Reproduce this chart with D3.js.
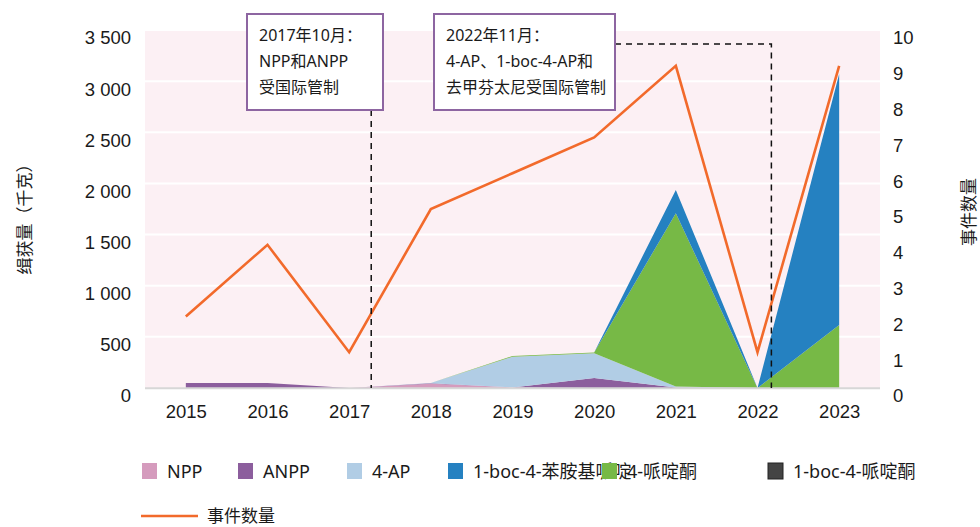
<!DOCTYPE html>
<html>
<head>
<meta charset="utf-8">
<script src="https://cdn.jsdelivr.net/npm/d3@7"></script>
<style>
  body { margin: 0; background: #fff; }
  svg { display: block; font-family: "Noto Sans", "Noto Sans CJK SC", sans-serif; }
</style>
</head>
<body>
<svg id="chart"></svg>
<script>
// data
const years = [2015, 2016, 2017, 2018, 2019, 2020, 2021, 2022, 2023];
const npp = [0, 0, 0, 42, 5, 0, 0, 0, 0];
const anpp = [50, 50, 0, 5, 0, 98, 5, 0, 0];
const ap4 = [0, 0, 0, 3, 300, 242, 10, 0, 0];
const piperidone4 = [0, 0, 0, 0, 8, 8, 1693, 0, 616];
const bocAnpp = [0, 0, 0, 0, 0, 0, 228, 0, 2454];
const bocPiperidone = [0, 0, 0, 0, 0, 0, 0, 0, 0];
const incidents = [2, 4, 1, 5, 6, 7, 9, 1, 9];

const leftTicks = [0, 500, 1000, 1500, 2000, 2500, 3000, 3500];
const rightTicks = [0, 1, 2, 3, 4, 5, 6, 7, 8, 9, 10];

// annotations: where the dashed marker sits (fractional year)
const notes = [
    { year: 2017.27, lines: ["2017年10月：", "NPP和ANPP", "受国际管制"] },
    { year: 2022.17, lines: ["2022年11月：", "4-AP、1-boc-4-AP和", "去甲芬太尼受国际管制"] }
];

const seriesKeys = ["NPP", "ANPP", "4-AP", "4-哌啶酮", "1-boc-4-苯胺基哌啶", "1-boc-4-哌啶酮"];
const seriesValues = [npp, anpp, ap4, piperidone4, bocAnpp, bocPiperidone];
const colors = {
    "NPP": "#d59bbd",
    "ANPP": "#8c5e9d",
    "4-AP": "#b1cde5",
    "1-boc-4-苯胺基哌啶": "#2581c1",
    "4-哌啶酮": "#77b946",
    "1-boc-4-哌啶酮": "#444444"
};
const lineColor = "#f26a2b";

const width = 980, height = 527;
const plot = { left: 145, right: 880, top: 30, bottom: 388 };

const svg = d3.select("#chart").attr("width", width).attr("height", height);

const x = d3.scaleLinear().domain([2014.5, 2023.5]).range([plot.left, plot.right]);
const yL = d3.scaleLinear().domain([0, 3500]).range([plot.bottom, plot.top]);
const yR = d3.scaleLinear().domain([0, 10]).range([plot.bottom, plot.top]);

//background + grid
svg.append("rect")
    .attr("x", plot.left).attr("y", plot.top)
    .attr("width", plot.right - plot.left).attr("height", plot.bottom - plot.top)
    .attr("fill", "#fcf0f4");

svg.append("g").selectAll("line")
    .data(leftTicks.filter(d => d > 0))
    .enter().append("line")
    .attr("x1", plot.left).attr("x2", plot.right)
    .attr("y1", d => yL(d)).attr("y2", d => yL(d))
    .attr("stroke", "#fff").attr("stroke-width", 2);

//stacked areas
const rows = years.map((yr, i) => {
    const row = { year: yr };
    seriesKeys.forEach((k, j) => row[k] = seriesValues[j][i]);
    return row;
});
const stacked = d3.stack().keys(seriesKeys)(rows);

const area = d3.area()
    .x(d => x(d.data.year))
    .y0(d => yL(d[0]))
    .y1(d => yL(d[1]));

svg.append("g").selectAll("path")
    .data(stacked)
    .enter().append("path")
    .attr("d", area)
    .attr("fill", d => colors[d.key]);

//baseline
svg.append("line")
    .attr("x1", plot.left).attr("x2", plot.right)
    .attr("y1", plot.bottom + 0.3).attr("y2", plot.bottom + 0.3)
    .attr("stroke", "#d7d7d7").attr("stroke-width", 2);

//incident line
const line = d3.line()
    .x((d, i) => x(years[i]))
    .y(d => yR(d));

svg.append("path")
    .datum(incidents)
    .attr("d", line)
    .attr("fill", "none")
    .attr("stroke", lineColor)
    .attr("stroke-width", 2.6)
    .attr("stroke-linejoin", "miter");

//axes
const fmt = d3.formatLocale({ decimal: ".", thousands: " ", grouping: [3], currency: ["", ""] }).format(",d");

const leftAxis = svg.append("g")
    .attr("transform", `translate(${plot.left},0)`)
    .call(d3.axisLeft(yL).tickValues(leftTicks).tickSize(0).tickPadding(14).tickFormat(fmt));
const rightAxis = svg.append("g")
    .attr("transform", `translate(${plot.right},0)`)
    .call(d3.axisRight(yR).tickValues(rightTicks).tickSize(0).tickPadding(13).tickFormat(d3.format("d")));
const bottomAxis = svg.append("g")
    .attr("transform", `translate(0,${plot.bottom})`)
    .call(d3.axisBottom(x).tickValues(years).tickSize(0).tickPadding(17).tickFormat(d3.format("d")));

[leftAxis, rightAxis, bottomAxis].forEach(a => {
    a.select(".domain").remove();
    a.selectAll("text")
        .attr("font-family", null)
        .style("font-size", "18.5px")
        .style("fill", "#1a1a1a");
});
leftAxis.selectAll("text").attr("y", 8);
rightAxis.selectAll("text").attr("y", 8);

//axis titles
svg.append("text")
    .attr("transform", "translate(31,215) rotate(-90)")
    .attr("text-anchor", "middle")
    .style("font-size", "17px")
    .style("fill", "#1a1a1a")
    .text("缉获量（千克）");

svg.append("text")
    .attr("transform", "translate(975,212) rotate(-90)")
    .attr("text-anchor", "middle")
    .style("font-size", "17px")
    .style("fill", "#1a1a1a")
    .text("事件数量");

//annotation markers (dashed)
const dash = "6,5";
const boxes = [
    { x: 247, y: 14, w: 136, h: 96 },
    { x: 434, y: 14, w: 181, h: 96 }
];

svg.append("line")
    .attr("x1", x(notes[0].year)).attr("x2", x(notes[0].year))
    .attr("y1", boxes[0].y + boxes[0].h).attr("y2", plot.bottom)
    .attr("stroke", "#111").attr("stroke-width", 1.5)
    .attr("stroke-dasharray", dash);

svg.append("path")
    .attr("d", `M${boxes[1].x + boxes[1].w},44 H${x(notes[1].year)} V${plot.bottom}`)
    .attr("fill", "none")
    .attr("stroke", "#111").attr("stroke-width", 1.5)
    .attr("stroke-dasharray", dash);

notes.forEach((n, i) => {
    const b = boxes[i];
    svg.append("rect")
        .attr("x", b.x).attr("y", b.y)
        .attr("width", b.w).attr("height", b.h)
        .attr("fill", "#fff")
        .attr("stroke", "#8d65a1").attr("stroke-width", 2);
    svg.append("g").selectAll("text")
        .data(n.lines)
        .enter().append("text")
        .attr("x", b.x + 12)
        .attr("y", (d, j) => b.y + 27 + j * 26)
        .style("font-size", "16px")
        .style("fill", "#1a1a1a")
        .text(d => d);
});

//legend
const legendItems = [
    { key: "NPP", x: 142 },
    { key: "ANPP", x: 238 },
    { key: "4-AP", x: 347 },
    { key: "1-boc-4-苯胺基哌啶", x: 448 },
    { key: "4-哌啶酮", x: 602 },
    { key: "1-boc-4-哌啶酮", x: 768 }
];

const legend = svg.append("g");
legendItems.forEach(it => {
    legend.append("rect")
        .attr("x", it.x).attr("y", 463)
        .attr("width", 15).attr("height", 16)
        .attr("fill", colors[it.key])
        .attr("stroke", it.key === "1-boc-4-哌啶酮" ? "#222" : "none")
        .attr("stroke-width", 1);
    legend.append("text")
        .attr("x", it.x + 25)
        .attr("y", 471)
        .attr("dominant-baseline", "central")
        .style("font-size", "18px")
        .style("fill", "#1a1a1a")
        .text(it.key);
});

legend.append("line")
    .attr("x1", 141).attr("x2", 198)
    .attr("y1", 516).attr("y2", 516)
    .attr("stroke", lineColor).attr("stroke-width", 2.5);
legend.append("text")
    .attr("x", 207).attr("y", 515)
    .attr("dominant-baseline", "central")
    .style("font-size", "17px")
    .style("fill", "#1a1a1a")
    .text("事件数量");
</script>
</body>
</html>
